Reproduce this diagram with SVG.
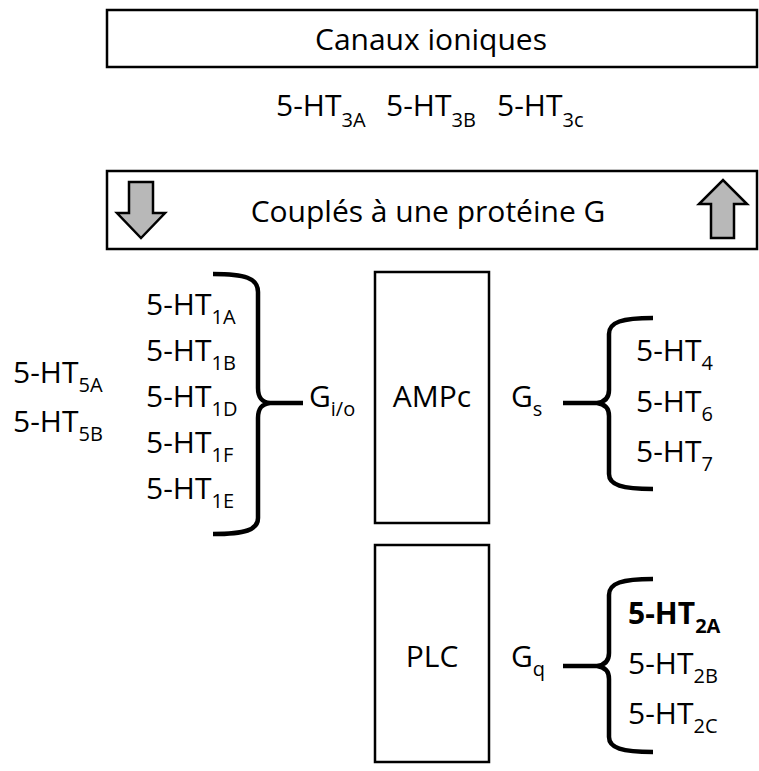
<svg xmlns="http://www.w3.org/2000/svg" width="759" height="771" viewBox="0 0 759 771">
<style>
text{font-family:"Open Sans","Noto Sans","Liberation Sans",sans-serif;font-size:30px;fill:#000}
.sub{font-size:20px}
.b{font-weight:bold}
.box{fill:#fff;stroke:#000;stroke-width:2.5}
.arrow{fill:#b8b8b8;stroke:#000;stroke-width:2.5;stroke-linejoin:miter}
.brace{fill:none;stroke:#000;stroke-width:4.5;stroke-linecap:butt}
.m{text-anchor:middle}
</style>
<rect width="759" height="771" fill="#fff"/>
<g id="canaux">
<rect class="box" x="107" y="10" width="650" height="57"/>
<text class="m" x="431" y="50">Canaux ioniques</text>
</g>
<g id="ht3">
<text x="276" y="116">5-HT<tspan class="sub" dy="11">3A</tspan></text>
<text x="386" y="116">5-HT<tspan class="sub" dy="11">3B</tspan></text>
<text x="497" y="116">5-HT<tspan class="sub" dy="11">3c</tspan></text>
</g>
<g id="couples">
<rect class="box" x="107" y="171" width="650" height="78"/>
<polygon class="arrow" points="129,182 153,182 153,213 165,213 141,238 117,213 129,213"/>
<polygon class="arrow" points="711,238 734,238 734,204 747,204 723,180 699,204 711,204"/>
<text class="m" x="428" y="222">Couplés à une protéine G</text>
</g>
<g id="ht1">
<text x="146" y="315">5-HT<tspan class="sub" dy="9">1A</tspan></text>
<text x="146" y="361">5-HT<tspan class="sub" dy="9">1B</tspan></text>
<text x="146" y="407">5-HT<tspan class="sub" dy="9">1D</tspan></text>
<text x="146" y="453">5-HT<tspan class="sub" dy="9">1F</tspan></text>
<text x="146" y="499">5-HT<tspan class="sub" dy="9">1E</tspan></text>
</g>
<g id="ht5">
<text x="13" y="383">5-HT<tspan class="sub" dy="9">5A</tspan></text>
<text x="13" y="432">5-HT<tspan class="sub" dy="9">5B</tspan></text>
</g>
<g id="gio">
<text x="309" y="407">G<tspan class="sub" dy="9">i/o</tspan></text>
</g>
<g id="ampc">
<rect class="box" x="375" y="272" width="114" height="251"/>
<text class="m" x="432" y="407">AMPc</text>
</g>
<g id="gs">
<text x="511" y="407">G<tspan class="sub" dy="9">s</tspan></text>
</g>
<g id="ht467">
<text x="636" y="361">5-HT<tspan class="sub" dy="9">4</tspan></text>
<text x="636" y="412">5-HT<tspan class="sub" dy="9">6</tspan></text>
<text x="636" y="462">5-HT<tspan class="sub" dy="9">7</tspan></text>
</g>
<g id="plc">
<rect class="box" x="375" y="545" width="114" height="217"/>
<text class="m" x="432" y="667">PLC</text>
</g>
<g id="gq">
<text x="511" y="667">G<tspan class="sub" dy="9">q</tspan></text>
</g>
<g id="ht2">
<text x="628" y="624" class="b">5-HT<tspan class="sub" dy="9">2A</tspan></text>
<text x="628" y="674">5-HT<tspan class="sub" dy="9">2B</tspan></text>
<text x="628" y="724">5-HT<tspan class="sub" dy="9">2C</tspan></text>
</g>
<g id="connectors">
<path class="brace" d="M213,274 C245,274 258,278 258,292 L258,388 C258,398 262,402 270,403 L303,403 M270,403 C262,404 258,408 258,418 L258,518 C258,530 245,534 213,534"/>
<path class="brace" d="M653,318 C622,318 609,322 609,334 L609,390 C609,398 605,402 597,403 L563,403 M597,403 C605,404 609,408 609,416 L609,474 C609,485 622,489 653,489"/>
<path class="brace" d="M653,579 C622,579 609,583 609,595 L609,653 C609,661 605,665 597,666 L563,666 M597,666 C605,667 609,671 609,679 L609,737 C609,748 622,752 653,752"/>
</g>
</svg>
